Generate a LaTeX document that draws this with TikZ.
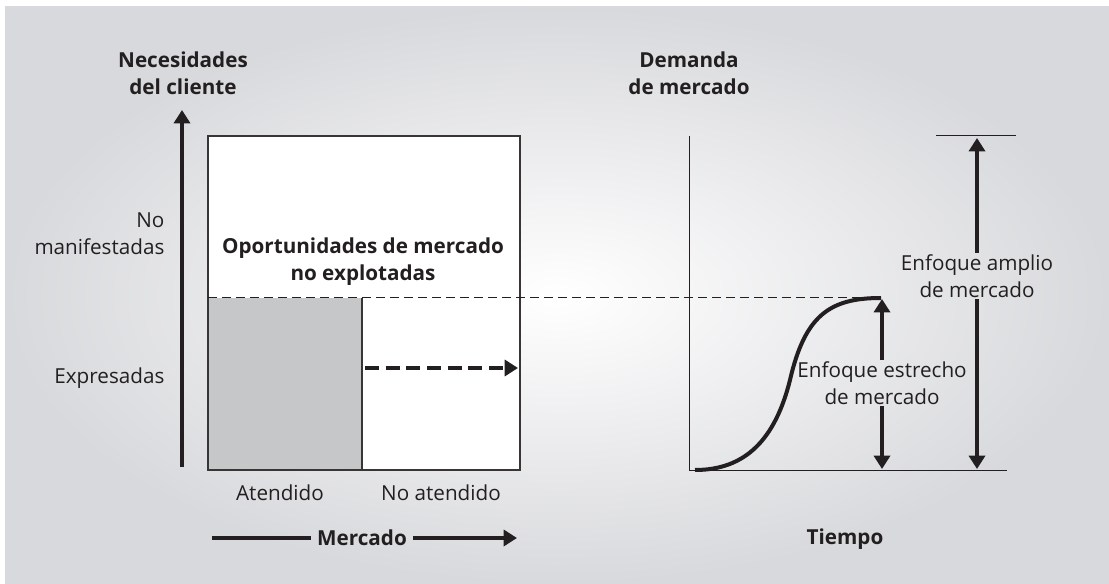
\documentclass[tikz,border=0pt]{standalone}
\usepackage{fontspec}
\setmainfont{Open Sans}
\usetikzlibrary{arrows.meta}
\definecolor{ink}{HTML}{231F20}
\definecolor{served}{HTML}{C6C7C9}
\definecolor{bgout}{HTML}{D8D9DC}

\begin{document}
\begin{tikzpicture}[x=0.75pt,y=-0.75pt,
    txt/.style={font=\fontsize{15.5}{20.25}\selectfont, text=ink, align=center, inner sep=1pt},
    heading/.style={txt, font=\fontsize{15.5}{20.25}\selectfont\bfseries},
    frame/.style={draw=ink!90, line width=0.9pt},
    axisline/.style={draw=ink, line width=0.75pt},
    bigarrow/.style={draw=ink, line width=3.2pt, -{Triangle[length=10pt,width=12pt]}},
    rangearrow/.style={draw=ink, line width=2.8pt, -{Triangle[length=10pt,width=12pt]}},
    growarrow/.style={draw=ink, line width=3pt, dash pattern=on 10.5pt off 5pt, -{Triangle[length=10pt,width=12pt]}}]
    \useasboundingbox (0,0) rectangle (1109,584);
    \shade[inner color=white, outer color=bgout] (5,7) rectangle (1109,584);

    \coordinate (boxtl) at (208,136);
    \coordinate (boxbr) at (520,470);
    \coordinate (split) at (362,298);
    \fill[white] (boxtl) rectangle (boxbr);
    \fill[served] (208,298) rectangle (362,470);
    \draw[frame] (362,298) -- (362,470);
    \draw[frame] (boxtl) rectangle (boxbr);
    \draw[ink, line width=0.75pt, dash pattern=on 6.5pt off 4pt] (208,298) -- (881,298);

    \coordinate (needsfoot) at (182,467);
    \coordinate (needstip) at (182,110);
    \draw[bigarrow] (needsfoot) -- (needstip);
    \node[heading] (needs) at (183,73) {Necesidades\\del cliente};
    \node[txt, align=right, anchor=east] (latent) at (166,234) {No\\manifestadas};
    \node[txt, anchor=east] (expressed) at (166,378) {Expresadas};
    \node[heading] (untapped) at (363,262) {Oportunidades de mercado\\no explotadas};
    \node[txt] (served) at (280,493) {Atendido};
    \node[txt] (unserved) at (441,493) {No atendido};

    \coordinate (growstart) at (365,368);
    \coordinate (growend) at (518,368);
    \draw[growarrow] (growstart) -- (growend);

    \node[heading, inner xsep=4.5pt] (market) at (362,538) {Mercado};
    \coordinate (marketstart) at (212,538);
    \coordinate (marketend) at (517,538);
    \draw[ink, line width=3.2pt] (marketstart) -- (market.west);
    \draw[bigarrow] (market.east) -- (marketend);

    \coordinate (origin) at (689,470);
    \coordinate (yend) at (689,136);
    \coordinate (xend) at (1007,470);
    \draw[axisline] (yend) -- (origin) -- (xend);
    \node[heading] (demand) at (689,73) {Demanda\\de mercado};
    \node[heading] (time) at (845,539) {Tiempo};

    \coordinate (sstart) at (695,470);
    \coordinate (smid) at (790,380);
    \coordinate (send) at (881,298);
    \draw[ink, line width=3pt] (sstart) .. controls (745,470) and (775,440) .. (smid)
        .. controls (805,315) and (830,298) .. (send);

    \node[txt] (narrow) at (882,383) {Enfoque estrecho\\de mercado};
    \coordinate (narrowtop) at (882,299);
    \coordinate (narrowbot) at (882,469);
    \draw[rangearrow] (narrow.north) -- (narrowtop);
    \draw[rangearrow] (narrow.south) -- (narrowbot);

    \coordinate (barleft) at (936,136);
    \coordinate (barright) at (1016,136);
    \draw[axisline] (barleft) -- (barright);
    \node[txt] (broad) at (977,276) {Enfoque amplio\\de mercado};
    \coordinate (broadtop) at (977,138);
    \coordinate (broadbot) at (977,469);
    \draw[rangearrow] (broad.north) -- (broadtop);
    \draw[rangearrow] (broad.south) -- (broadbot);
\end{tikzpicture}
\end{document}
